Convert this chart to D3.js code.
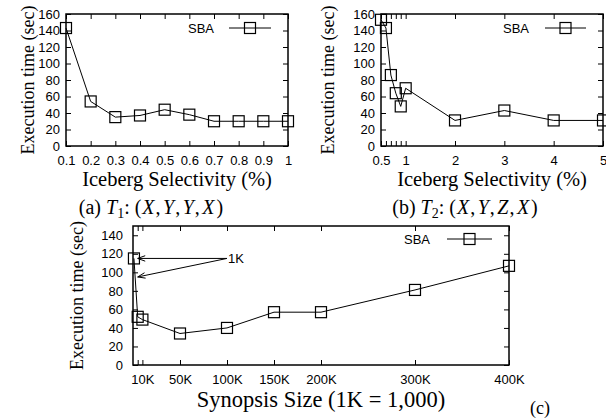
<!DOCTYPE html>
<html>
<head>
<meta charset="utf-8">
<script src="https://cdn.jsdelivr.net/npm/d3@7"></script>
<style>
  body { margin: 0; background: #fff; }
  svg { display: block; }
</style>
</head>
<body>
<div id="graphDiv"></div>
<script>
// (a) T1 = (X,Y,Y,X)
var selA = [0.1, 0.2, 0.3, 0.4, 0.5, 0.6, 0.7, 0.8, 0.9, 1];
var timeA = [143, 54, 35, 37, 44, 38, 30, 30, 30, 30];
// (b) T2 = (X,Y,Z,X)
var selB = [0.5, 0.6, 0.7, 0.8, 0.9, 1, 2, 3, 4, 5];
var timeB = [153, 143, 86, 64, 48, 70, 31, 43, 31, 31];
// (c) synopsis size, in K
var sizeC = [1, 5, 10, 50, 100, 150, 200, 300, 400];
var timeC = [115, 52, 49, 34, 40, 57, 57, 81, 107];

// tick values
var xTicksA = [0.1, 0.2, 0.3, 0.4, 0.5, 0.6, 0.7, 0.8, 0.9, 1];
var xTicksB = [0.5, 1, 2, 3, 4, 5];
var xMinorB = [0.6, 0.7, 0.8, 0.9];
var xTicksC = [10, 50, 100, 150, 200, 300, 400];
var xMinorC = [5];
var yTicksAB = [0, 20, 40, 60, 80, 100, 120, 140, 160];
var yTicksC = [0, 20, 40, 60, 80, 100, 120, 140];
var seriesName = "SBA";

// "1K" annotation in (c): label point and arrow targets (data coords)
var annoText = "1K";
var annoAt = [100, 115];
var annoTargets = [[5, 115], [5, 95]];

var sans = "'Liberation Sans', Arial, Helvetica, sans-serif";
var serif = "'Liberation Serif', 'Times New Roman', Times, serif";

var svg = d3.select("#graphDiv").append("svg")
    .attr("width", 606)
    .attr("height", 419);

// draws one gnuplot-like panel: framed box, inward ticks on all sides
function panel(o) {
  var x = d3.scaleLinear().domain(o.xDomain).range([o.left, o.right]);
  var y = d3.scaleLinear().domain(o.yDomain).range([o.bottom, o.top]);
  var g = svg.append("g");

  var tick = 5;
  var allX = o.xTicks.concat(o.xMinor || []);

  g.append("g")
    .attr("transform", "translate(0," + o.bottom + ")")
    .call(d3.axisBottom(x).tickValues(o.xTicks).tickSize(-tick).tickPadding(o.xPad).tickFormat(o.xFormat));
  if (o.xMinor) {
    g.append("g")
      .attr("transform", "translate(0," + o.bottom + ")")
      .call(d3.axisBottom(x).tickValues(o.xMinor).tickSize(-tick).tickFormat(""));
  }
  g.append("g")
    .attr("transform", "translate(0," + o.top + ")")
    .call(d3.axisTop(x).tickValues(allX).tickSize(-tick).tickFormat(""));
  g.append("g")
    .attr("transform", "translate(" + o.left + ",0)")
    .call(d3.axisLeft(y).tickValues(o.yTicks).tickSize(-tick).tickPadding(o.yPad));
  g.append("g")
    .attr("transform", "translate(" + o.right + ",0)")
    .call(d3.axisRight(y).tickValues(o.yTicks).tickSize(-tick).tickFormat(""));

  g.selectAll(".domain").remove();
  g.selectAll(".tick line").attr("stroke", "#000").attr("stroke-width", 1);
  g.selectAll(".tick text")
    .attr("fill", "#000")
    .style("font-family", sans)
    .style("font-size", "13px");

  // frame
  g.append("rect")
    .attr("x", o.left).attr("y", o.top)
    .attr("width", o.right - o.left).attr("height", o.bottom - o.top)
    .attr("fill", "none").attr("stroke", "#000").attr("stroke-width", 1.5);

  // series line
  var pts = o.xs.map(function(d, i) { return [d, o.ys[i]]; });
  g.append("path")
    .datum(pts)
    .attr("fill", "none")
    .attr("stroke", "#000")
    .attr("stroke-width", 1)
    .attr("d", d3.line().x(function(d) { return x(d[0]); }).y(function(d) { return y(d[1]); }));

  var m = 11;
  g.selectAll("rect.pt")
    .data(pts)
    .enter().append("rect")
    .attr("class", "pt")
    .attr("x", function(d) { return x(d[0]) - m / 2; })
    .attr("y", function(d) { return y(d[1]) - m / 2; })
    .attr("width", m).attr("height", m)
    .attr("fill", "none").attr("stroke", "#000").attr("stroke-width", 1.2);

  // legend (key at top right)
  var ly = o.top + o.legDy;
  g.append("text")
    .attr("x", o.right - o.legText).attr("y", ly)
    .attr("dy", "0.35em")
    .attr("text-anchor", "end")
    .style("font-family", sans).style("font-size", "13px")
    .text(seriesName);
  g.append("line")
    .attr("x1", o.right - o.legLine).attr("x2", o.right - 17)
    .attr("y1", ly).attr("y2", ly)
    .attr("stroke", "#000").attr("stroke-width", 1);
  var lx = (o.right - o.legLine + o.right - 17) / 2;
  g.append("rect")
    .attr("x", lx - m / 2).attr("y", ly - m / 2)
    .attr("width", m).attr("height", m)
    .attr("fill", "none").attr("stroke", "#000").attr("stroke-width", 1.2);

  // axis titles
  g.append("text")
    .attr("x", (o.left + o.right) / 2).attr("y", o.xTitleY)
    .attr("text-anchor", "middle")
    .style("font-family", serif).style("font-size", o.xTitleSize + "px")
    .text(o.xTitle);
  g.append("text")
    .attr("transform", "translate(" + o.yTitleX + "," + ((o.top + o.bottom) / 2) + ")rotate(-90)")
    .attr("text-anchor", "middle")
    .style("font-family", serif).style("font-size", "18px")
    .text("Execution time (sec)");

  return { g: g, x: x, y: y };
}

function fmtNum(d) { return String(d); }
function fmtK(d) { return d + "K"; }

panel({
  left: 66, right: 288, top: 14, bottom: 146,
  xDomain: [0.1, 1], yDomain: [0, 160],
  xTicks: xTicksA, yTicks: yTicksAB, xFormat: fmtNum,
  xPad: 10, yPad: 6,
  xs: selA, ys: timeA,
  legText: 74, legLine: 59, legDy: 14,
  xTitle: "Iceberg Selectivity (%)", xTitleY: 186, xTitleSize: 20.5, yTitleX: 34
});

panel({
  left: 381, right: 603, top: 14, bottom: 146,
  xDomain: [0.5, 5], yDomain: [0, 160],
  xTicks: xTicksB, xMinor: xMinorB, yTicks: yTicksAB, xFormat: fmtNum,
  xPad: 10, yPad: 6,
  xs: selB, ys: timeB,
  legText: 74, legLine: 58, legDy: 14,
  xTitle: "Iceberg Selectivity (%)", xTitleY: 186, xTitleSize: 20.5, yTitleX: 334
});

var pc = panel({
  left: 133, right: 509, top: 226, bottom: 365,
  xDomain: [0, 400], yDomain: [0, 150],
  xTicks: xTicksC, xMinor: xMinorC, yTicks: yTicksC, xFormat: fmtK,
  xPad: 10, yPad: 10,
  xs: sizeC, ys: timeC,
  legText: 79, legLine: 62, legDy: 13,
  xTitle: "Synopsis Size (1K = 1,000)", xTitleY: 407, xTitleSize: 22.5, yTitleX: 83
});

// "1K" annotation with open arrow heads
var ax0 = pc.x(annoAt[0]), ay0 = pc.y(annoAt[1]);
pc.g.append("text")
  .attr("x", ax0 + 1).attr("y", ay0)
  .attr("dy", "0.35em")
  .style("font-family", sans).style("font-size", "13px")
  .text(annoText);
annoTargets.forEach(function(t) {
  var tx = pc.x(t[0]), ty = pc.y(t[1]);
  pc.g.append("line")
    .attr("x1", ax0).attr("y1", ay0).attr("x2", tx).attr("y2", ty)
    .attr("stroke", "#000").attr("stroke-width", 1);
  var ang = Math.atan2(ay0 - ty, ax0 - tx), len = 8, spread = 0.35;
  [-spread, spread].forEach(function(s) {
    pc.g.append("line")
      .attr("x1", tx).attr("y1", ty)
      .attr("x2", tx + len * Math.cos(ang + s)).attr("y2", ty + len * Math.sin(ang + s))
      .attr("stroke", "#000").attr("stroke-width", 1);
  });
});

// sub-figure captions
function caption(cx, letters, sub) {
  var t = svg.append("text")
    .attr("x", cx).attr("y", 214)
    .attr("text-anchor", "middle")
    .style("font-family", serif).style("font-size", "20px");
  t.append("tspan").text(letters[0] + " ");
  t.append("tspan").style("font-style", "italic").text("T");
  t.append("tspan").attr("dy", 4).style("font-size", "14px").text(sub);
  t.append("tspan").attr("dy", -4).text(": (");
  letters.slice(1).forEach(function(l, i) {
    if (i > 0) t.append("tspan").attr("dx", 1).text(",");
    t.append("tspan").attr("dx", i > 0 ? 2.5 : 1).style("font-style", "italic").text(l);
  });
  t.append("tspan").attr("dx", 2).text(")");
}
caption(151, ["(a)", "X", "Y", "Y", "X"], "1");
caption(465, ["(b)", "X", "Y", "Z", "X"], "2");

svg.append("text")
  .attr("x", 540).attr("y", 414)
  .attr("text-anchor", "middle")
  .style("font-family", serif).style("font-size", "18px")
  .text("(c)");
</script>
</body>
</html>
